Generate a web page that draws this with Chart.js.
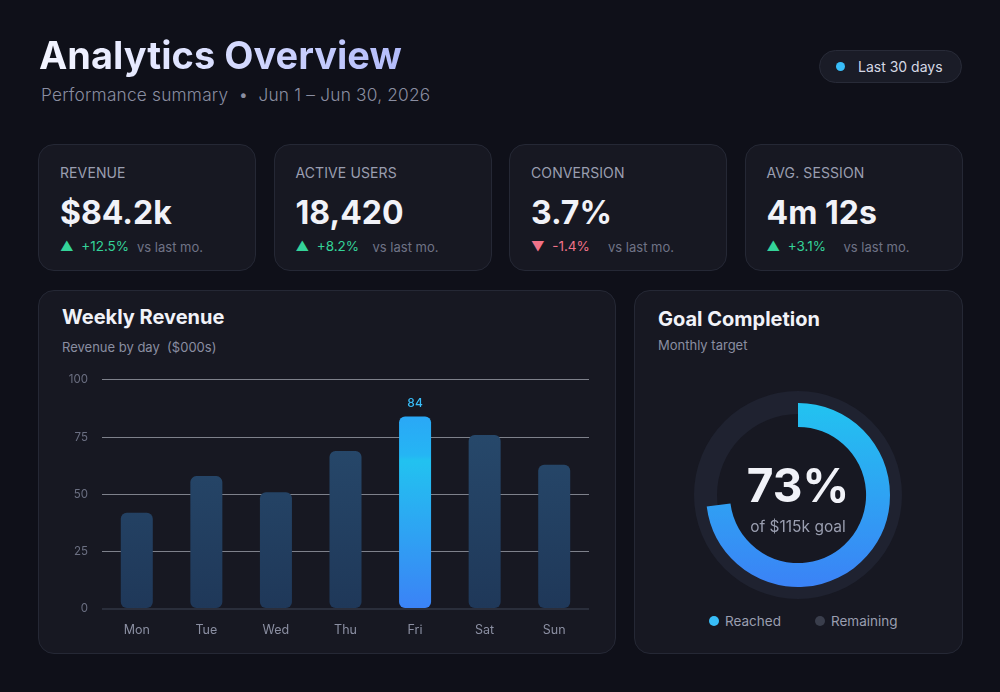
<!DOCTYPE html>
<html>
<head>
<meta charset="utf-8">
<script src="https://cdn.jsdelivr.net/npm/chart.js@4.4.1/dist/chart.umd.min.js"></script>
<style>
  html, body { margin: 0; padding: 0; }
  body {
    width: 1000px; height: 692px; overflow: hidden; position: relative;
    background: #0f1019; font-family: "Inter", "Noto Sans", sans-serif; color: #eef0f8;
  }
  .abs { position: absolute; }
  h1 {
    position: absolute; left: 39px; top: 32px; margin: 0;
    font-size: 38px; font-weight: 700; letter-spacing: 0px;
    background: linear-gradient(90deg, #f4f5ff 0%, #dfe3ff 40%, #b3bcfb 100%);
    -webkit-background-clip: text; background-clip: text; color: transparent;
  }
  .sub { left: 41px; top: 84px; font-size: 17.3px; color: #8a8ea1; font-weight: 300; letter-spacing: 0.2px; }
  .pill {
    left: 819px; top: 50px; width: 143px; height: 33px; border-radius: 17px;
    background: #1a1c27; border: 1px solid #282b38; box-sizing: border-box;
    font-size: 14px; color: #d5d8e4; line-height: 31px;
  }
  .pill i { position: absolute; left: 16px; top: 11px; width: 9px; height: 9px; border-radius: 50%; background: #38bdf8; }
  .pill span { position: absolute; left: 38px; }
  .card {
    position: absolute; background: #171822; border: 1px solid #252835;
    border-radius: 16px; box-sizing: border-box;
  }
  .kpi .lab { position: absolute; left: 21px; top: 19px; font-size: 14px; color: #9a9eb0; letter-spacing: 0.1px; }
  .kpi .val { position: absolute; left: 21px; top: 48px; font-size: 32px; font-weight: 700; color: #f1f2f8; letter-spacing: 0px; }
  .kpi .chg { position: absolute; left: 21px; top: 93px; font-size: 13.5px; }
  .kpi .vs { position: absolute; left: 98px; top: 94px; font-size: 13px; color: #6f7386; }
  .up { color: #34d399; }
  .down { color: #f07288; }
  .ctitle { position: absolute; font-size: 20px; font-weight: 700; color: #f1f2f8; }
  .csub { position: absolute; font-size: 13px; color: #8a8ea1; }
  .center1 { left: 698px; width: 200px; top: 457px; text-align: center; font-size: 46px; font-weight: 700; color: #f1f2f8; letter-spacing: 0px; }
  .center2 { left: 698px; width: 200px; top: 517px; text-align: center; font-size: 15.5px; color: #9a9eb0; }
  .leg { top: 613px; font-size: 13.5px; color: #9a9eb0; }
  .leg i { position: absolute; left: 0; top: 3px; width: 10px; height: 10px; border-radius: 50%; }
  .leg span { position: absolute; left: 16px; white-space: nowrap; }
</style>
</head>
<body>
<h1>Analytics Overview</h1>
<div class="abs sub">Performance summary &nbsp;•&nbsp; Jun 1 – Jun 30, 2026</div>
<div class="abs pill"><i></i><span>Last 30 days</span></div>

<div id="kpis"></div>

<div class="card" style="left:38px; top:290px; width:578px; height:364px;"></div>
<div class="ctitle" style="left:62px; top:305px;">Weekly Revenue</div>
<div class="csub" style="left:62px; top:339px;">Revenue by day &nbsp;($000s)</div>
<div class="abs" style="left:50px; top:359px; width:550px; height:286px;"><canvas id="barChart"></canvas></div>

<div class="card" style="left:634px; top:290px; width:329px; height:364px;"></div>
<div class="ctitle" style="left:658px; top:307px;">Goal Completion</div>
<div class="csub" style="left:658px; top:337px;">Monthly target</div>
<div class="abs" style="left:688px; top:385px; width:220px; height:220px;"><canvas id="goalChart"></canvas></div>
<div class="abs center1" id="goalPct"></div>
<div class="abs center2">of $115k goal</div>
<div class="abs leg" style="left:709px;"><i style="background:#38bdf8"></i><span>Reached</span></div>
<div class="abs leg" style="left:815px;"><i style="background:#3a3e4c"></i><span>Remaining</span></div>

<script>
// Données KPI
var kpiLabels = ['REVENUE', 'ACTIVE USERS', 'CONVERSION', 'AVG. SESSION'];
var kpiValues = ['$84.2k', '18,420', '3.7%', '4m 12s'];
var kpiChanges = ['+12.5%', '+8.2%', '-1.4%', '+3.1%'];
var kpiUp = [true, true, false, true];

// Revenu hebdomadaire ($000s)
var jours = ['Mon', 'Tue', 'Wed', 'Thu', 'Fri', 'Sat', 'Sun'];
var revenus = [42, 58, 51, 69, 84, 76, 63];
var yTicks = [0, 25, 50, 75, 100];

// Objectif mensuel
var goalLabels = ['Reached', 'Remaining'];
var goalValues = [73, 27];

// Cartes KPI
var kpiBox = document.getElementById('kpis');
kpiLabels.forEach(function (lab, i) {
    var card = document.createElement('div');
    card.className = 'card kpi';
    card.style.left = (38 + i * 235.5) + 'px';
    card.style.top = '144px';
    card.style.width = '218px';
    card.style.height = '127px';
    var cls = kpiUp[i] ? 'up' : 'down';
    var arrow = kpiUp[i] ? '▲' : '▼';
    card.innerHTML = '<div class="lab">' + lab + '</div>' +
        '<div class="val">' + kpiValues[i] + '</div>' +
        '<div class="chg ' + cls + '">' + arrow + '&nbsp; ' + kpiChanges[i] + '</div>' +
        '<div class="vs">vs last mo.</div>';
    kpiBox.appendChild(card);
});

document.getElementById('goalPct').textContent = goalValues[0] + '%';

var maxIdx = revenus.indexOf(Math.max.apply(null, revenus));

// Étiquette au-dessus de la barre la plus haute
var topLabel = {
    id: 'topLabel',
    afterDatasetsDraw: function (chart) {
        var bar = chart.getDatasetMeta(0).data[maxIdx];
        var ctx = chart.ctx;
        ctx.save();
        ctx.fillStyle = '#38bdf8';
        ctx.font = '500 12px Inter, "Noto Sans", sans-serif';
        ctx.textAlign = 'center';
        ctx.textBaseline = 'bottom';
        ctx.fillText(revenus[maxIdx], bar.x, bar.y - 7);
        ctx.restore();
    }
};

function barColor(c) {
    var area = c.chart.chartArea;
    if (!area || !isFinite(area.top) || !isFinite(area.bottom)) return '#243f60';
    var ctx = c.chart.ctx;
    var g;
    if (c.dataIndex === maxIdx) {
        var top = c.chart.scales.y.getPixelForValue(revenus[maxIdx]);
        if (!isFinite(top)) top = area.top;
        g = ctx.createLinearGradient(0, top, 0, area.bottom);
        g.addColorStop(0, '#2aa8f6');
        g.addColorStop(0.2, '#25b5f4');
        g.addColorStop(0.23, '#22c2f0');
        g.addColorStop(1, '#3b82f6');
    } else {
        g = ctx.createLinearGradient(0, area.top, 0, area.bottom);
        g.addColorStop(0, '#294d70');
        g.addColorStop(1, '#1f3859');
    }
    return g;
}

new Chart(document.getElementById('barChart'), {
    type: 'bar',
    data: {
        labels: jours,
        datasets: [{
            data: revenus,
            backgroundColor: barColor,
            borderRadius: 6,
            borderSkipped: false,
            barPercentage: 0.46,
            categoryPercentage: 1
        }]
    },
    options: {
        responsive: true,
        maintainAspectRatio: false,
        animation: false,
        layout: { padding: { top: 9, right: 11 } },
        plugins: { legend: { display: false }, tooltip: { enabled: false } },
        scales: {
            x: {
                grid: { display: false },
                border: { display: false },
                ticks: { color: '#8b8fa2', padding: 6, font: { family: 'Inter', size: 12.5 } },
                afterFit: function (s) { s.height = 36; }
            },
            y: {
                min: 0, max: 100,
                afterBuildTicks: function (s) { s.ticks = yTicks.map(function (v) { return { value: v }; }); },
                grid: {
                    color: function (c) { return c.tick && c.tick.value === 0 ? '#2a2e3b' : 'rgba(195,200,210,0.6)'; },
                    lineWidth: function (c) { return c.tick && c.tick.value === 0 ? 2 : 1; },
                    drawTicks: false
                },
                border: { display: false },
                ticks: { color: '#6b6f82', padding: 14, font: { family: 'Inter', size: 11.5 } },
                afterFit: function (s) { s.width = 52; }
            }
        }
    },
    plugins: [topLabel]
});

// Anneau de fond du donut
var track = {
    id: 'track',
    beforeDatasetsDraw: function (chart) {
        var arc = chart.getDatasetMeta(0).data[0];
        var ctx = chart.ctx;
        ctx.save();
        ctx.beginPath();
        ctx.arc(arc.x, arc.y, 104, 0, Math.PI * 2);
        ctx.arc(arc.x, arc.y, 81, 0, Math.PI * 2, true);
        ctx.fillStyle = '#1f2230';
        ctx.fill();
        ctx.restore();
    }
};

function goalColor(c) {
    if (c.dataIndex !== 0) return 'rgba(0,0,0,0)';
    var area = c.chart.chartArea;
    if (!area || !isFinite(area.left) || !isFinite(area.bottom)) return '#38bdf8';
    var cy = (area.top + area.bottom) / 2;
    var g = c.chart.ctx.createLinearGradient(0, cy - 92, 0, cy + 92);
    g.addColorStop(0, '#22c3f0');
    g.addColorStop(1, '#3b82f6');
    return g;
}

new Chart(document.getElementById('goalChart'), {
    type: 'doughnut',
    data: {
        labels: goalLabels,
        datasets: [{
            data: goalValues,
            backgroundColor: goalColor,
            borderWidth: 0
        }]
    },
    options: {
        responsive: true,
        maintainAspectRatio: false,
        animation: false,
        radius: 92,
        cutout: '74%',
        plugins: { legend: { display: false }, tooltip: { enabled: false } }
    },
    plugins: [track]
});
</script>
</body>
</html>
